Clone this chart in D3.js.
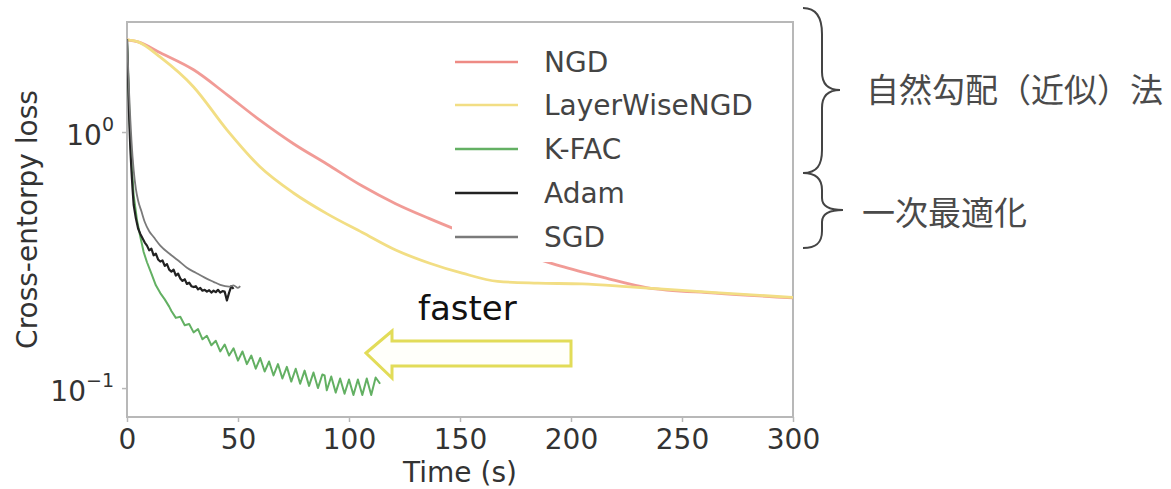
<!DOCTYPE html>
<html>
<head>
<meta charset="utf-8">
<script src="https://cdn.jsdelivr.net/npm/d3@7"></script>
<style>
  html, body { margin: 0; padding: 0; background: #fff; }
  svg { display: block; }
</style>
</head>
<body>
<svg id="chart" width="1171" height="489"></svg>
<script>
// ---------------- DATA ----------------
const seriesNames = ["NGD", "LayerWiseNGD", "K-FAC", "Adam", "SGD"];
const xTicks = [0, 50, 100, 150, 200, 250, 300];
const yTicks = [1, 0.1];
const yTickLabels = [["10", "0"], ["10", "\u22121"]];

const ngd = [[0,2.29],[5,2.25],[15,2.04],[30,1.75],[45,1.40],[60,1.11],[75,0.90],[90,0.75],
  [106,0.615],[121,0.525],[136,0.46],[150,0.41],[165,0.365],[180,0.33],[195,0.30],[215,0.27],
  [234,0.247],[265,0.235],[300,0.225]];
const layerWise = [[0,2.29],[5,2.25],[15,1.96],[30,1.50],[45,1.02],[60,0.73],[75,0.578],[90,0.48],
  [106,0.405],[121,0.346],[136,0.308],[151,0.281],[167,0.261],[185,0.257],[205,0.255],[225,0.249],
  [240,0.244],[265,0.236],[300,0.226]];
const kfac = [[0,2.3],[0.5,1.7],[1,1.22],[1.5,0.95],[2,0.78],[3,0.567],[4.5,0.453],[6,0.39],[7.5,0.34],
  [9,0.31],[11,0.28],[13,0.252],[15,0.235],[17,0.222],[19,0.208],[20,0.2],
  [22,0.188],[24,0.190],[26,0.176],[28,0.178],[30,0.165],[32,0.170],[34,0.155],[36,0.160],
  [38,0.147],[40,0.153],[42,0.139],[44,0.148],[46,0.134],[48,0.143],[50,0.128],[52,0.139],
  [54,0.124],[56,0.134],[58,0.119],[60,0.131],[62,0.116],[64,0.127],[66,0.112],[68,0.124],
  [70,0.109],[72,0.121],[74,0.106],[76,0.119],[78,0.104],[80,0.117],[82,0.102],[84,0.115],
  [86,0.100],[88,0.113],[89,0.112],[90,0.098],[92,0.111],[94,0.096],[96,0.109],[98,0.095],
  [100,0.108],[102,0.094],[104,0.108],[106,0.094],[108,0.109],[110,0.094],[112,0.110],[114,0.104]];
const adam = [[0,2.3],[0.5,1.6],[1,1.12],[1.5,0.86],[2,0.71],[2.5,0.6],[3,0.52],[4,0.46],[5,0.42],
  [6,0.40],[7,0.385],[8,0.37],[9,0.36],[10,0.345],[11,0.35],[12,0.33],[13,0.335],[14,0.318],
  [15,0.312],[16,0.315],[17,0.30],[18,0.305],[19,0.29],[20,0.285],[21,0.29],[22,0.275],[23,0.28],
  [24,0.268],[25,0.262],[26,0.266],[27,0.255],[28,0.258],[29,0.25],[30,0.248],[31,0.25],[32,0.243],
  [33,0.246],[34,0.24],[35,0.242],[36,0.238],[37,0.241],[38,0.236],[39,0.24],[40,0.237],[41,0.242],
  [42,0.236],[43,0.239],[44,0.238],[45,0.22],[46,0.236],[47,0.25],[48,0.244]];
const sgd = [[0,2.3],[0.5,1.8],[1,1.39],[1.5,1.12],[2,0.93],[3,0.71],[4,0.6],[5,0.54],[6.5,0.49],
  [8,0.445],[10,0.41],[12,0.389],[15,0.36],[20,0.33],[24,0.31],[27,0.295],[31,0.282],[35,0.27],
  [39,0.26],[42,0.253],[46,0.249],[48,0.252],[50,0.246],[51,0.25]];

const seriesData = [ngd, layerWise, kfac, adam, sgd];
const groupLabels = ["自然勾配（近似）法", "一次最適化"];
const annotationText = "faster";
const xLabel = "Time (s)";
const yLabel = "Cross-entorpy loss";

// ---------------- STYLE / LAYOUT ----------------
const colors = ["#ee8a84", "#f2de84", "#63b063", "#222222", "#7a7a7a"];
const widths = [2.8, 2.8, 2, 2.2, 1.8];
const plot = { left: 127, right: 793, top: 22, bottom: 417 };
const font = "DejaVu Sans, sans-serif";

const svg = d3.select("#chart");

const x = d3.scaleLinear().domain([0, 300]).range([plot.left, plot.right]);
const y = d3.scaleLog().domain([Math.pow(10, -1.113), Math.pow(10, 0.4297)]).range([plot.bottom, plot.top]);

// frame
svg.append("rect")
  .attr("x", plot.left).attr("y", plot.top)
  .attr("width", plot.right - plot.left).attr("height", plot.bottom - plot.top)
  .attr("fill", "none").attr("stroke", "#b8b8b8").attr("stroke-width", 2);

// x axis
const xAxis = svg.append("g")
  .attr("transform", `translate(0,${plot.bottom})`)
  .call(d3.axisBottom(x).tickValues(xTicks).tickSize(5).tickPadding(7).tickFormat(d3.format("d")));
xAxis.select(".domain").remove();
xAxis.selectAll("line").attr("stroke", "#b8b8b8").attr("stroke-width", 1.5);
xAxis.selectAll("text").attr("font-family", font).attr("font-size", 28).attr("fill", "#333");

// y axis
const yAxis = svg.append("g")
  .attr("transform", `translate(${plot.left},0)`)
  .call(d3.axisLeft(y).tickValues(yTicks).tickSize(5).tickPadding(8).tickFormat(() => ""));
yAxis.select(".domain").remove();
yAxis.selectAll("line").attr("stroke", "#b8b8b8").attr("stroke-width", 1.5);
yAxis.selectAll(".tick text").each(function(d, i) {
  const t = d3.select(this)
    .attr("font-family", font).attr("font-size", 28).attr("fill", "#333")
    .attr("dy", "0.45em");
  t.append("tspan").text(yTickLabels[i][0]);
  t.append("tspan").attr("font-size", 19).attr("dy", "-0.75em").text(yTickLabels[i][1]);
});

// axis labels
svg.append("text")
  .attr("x", (plot.left + plot.right) / 2).attr("y", 482)
  .attr("text-anchor", "middle").attr("font-family", font).attr("font-size", 28).attr("fill", "#333")
  .text(xLabel);
svg.append("text")
  .attr("transform", `translate(37,${(plot.top + plot.bottom) / 2}) rotate(-90)`)
  .attr("text-anchor", "middle").attr("font-family", font).attr("font-size", 28).attr("fill", "#333")
  .text(yLabel);

// lines
svg.append("clipPath").attr("id", "clip")
  .append("rect").attr("x", plot.left).attr("y", plot.top)
  .attr("width", plot.right - plot.left).attr("height", plot.bottom - plot.top);

const lineSmooth = d3.line().x(d => x(d[0])).y(d => y(d[1])).curve(d3.curveMonotoneX);
const lineRaw = d3.line().x(d => x(d[0])).y(d => y(d[1]));
const lg = svg.append("g").attr("clip-path", "url(#clip)");
seriesData.forEach((s, i) => {
  lg.append("path")
    .datum(s)
    .attr("d", (i === 2 || i === 3) ? lineRaw : lineSmooth)
    .attr("fill", "none")
    .attr("stroke", colors[i])
    .attr("stroke-width", widths[i])
    .attr("stroke-linejoin", "round")
    .attr("opacity", i === 0 ? 0.85 : 1);
});

// legend
const legend = svg.append("g");
legend.append("rect")
  .attr("x", 452).attr("y", 36).attr("width", 330).attr("height", 226)
  .attr("fill", "#fff").attr("stroke", "none");
const legY = [62, 105, 149, 193, 237];
seriesNames.forEach((name, i) => {
  legend.append("line")
    .attr("x1", 455).attr("x2", 518).attr("y1", legY[i]).attr("y2", legY[i])
    .attr("stroke", colors[i]).attr("stroke-width", 2.6);
  legend.append("text")
    .attr("x", 544).attr("y", legY[i]).attr("dy", "0.36em")
    .attr("font-family", font).attr("font-size", 28).attr("fill", "#444")
    .text(name);
});

// arrow annotation
const arrowPts = [[366,353],[392,331],[392,341],[571,341],[571,366],[392,366],[392,378]];
svg.append("path")
  .attr("d", d3.line()(arrowPts) + "Z")
  .attr("fill", "#fffffa").attr("stroke", "#e2dc58").attr("stroke-width", 3)
  .attr("stroke-linejoin", "miter");
svg.append("text")
  .attr("x", 418).attr("y", 320)
  .attr("font-family", font).attr("font-size", 34).attr("fill", "#111")
  .text(annotationText);

// braces
svg.append("path")
  .attr("d", "M803,8 C817,8 822,18 822,34 L822,72 C822,84 828,90 840,90 C828,90 822,96 822,108 L822,150 C822,165 817,173 803,173")
  .attr("fill", "none").attr("stroke", "#444").attr("stroke-width", 2);
svg.append("path")
  .attr("d", "M803,173 C817,173 822,180 822,190 L822,198 C822,206 830,210 843,210 C830,210 822,214 822,222 L822,231 C822,242 817,248 803,248")
  .attr("fill", "none").attr("stroke", "#444").attr("stroke-width", 2);

svg.append("text")
  .attr("x", 866).attr("y", 90).attr("dy", "0.36em")
  .attr("font-family", "Noto Sans CJK JP, sans-serif").attr("font-size", 33).attr("fill", "#4a4a4a")
  .text(groupLabels[0]);
svg.append("text")
  .attr("x", 862).attr("y", 213).attr("dy", "0.36em")
  .attr("font-family", "Noto Sans CJK JP, sans-serif").attr("font-size", 33).attr("fill", "#4a4a4a")
  .text(groupLabels[1]);
</script>
</body>
</html>
